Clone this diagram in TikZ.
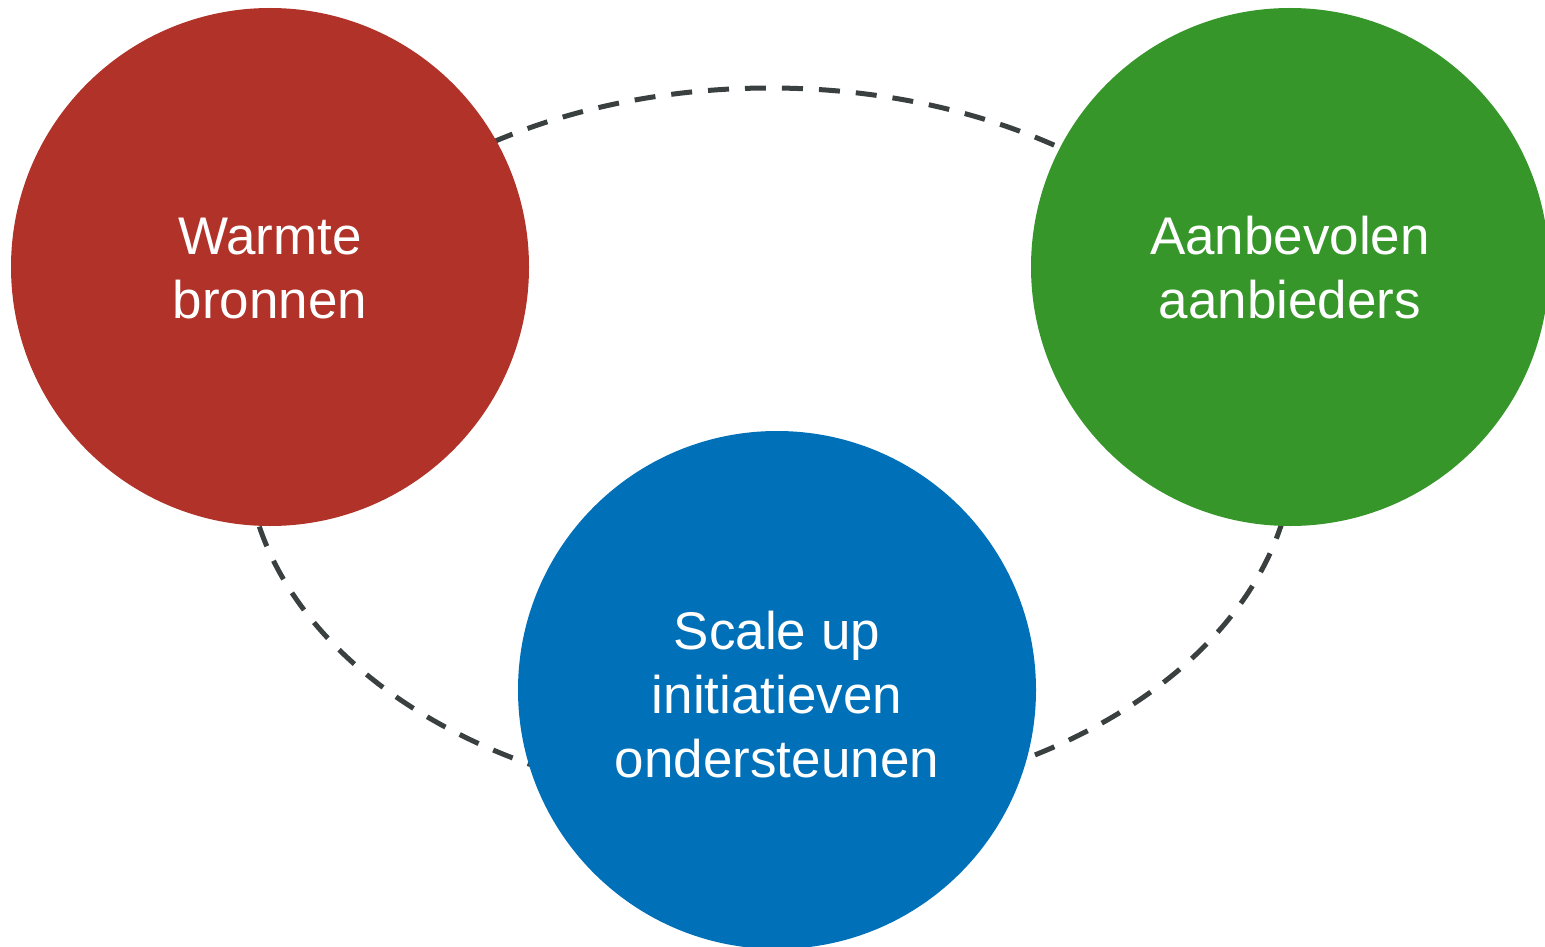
\documentclass[tikz,border=0pt]{standalone}
\usepackage{fontspec}
\setmainfont{Liberation Sans}
\definecolor{cred}{HTML}{B03228}
\definecolor{cgreen}{HTML}{36962A}
\definecolor{cblue}{HTML}{0070B8}
\definecolor{cdash}{HTML}{3A4040}
\begin{document}
\begin{tikzpicture}[x=1pt,y=-1pt,
  bubble/.style={circle, inner sep=0pt, minimum size=518pt},
  txt/.style={text=white, align=center, inner sep=0pt, font=\fontsize{53}{64}\selectfont},
  ring/.style={draw=cdash, line width=5pt, dash pattern=on 21pt off 16pt}]
\useasboundingbox (0,0) rectangle (1545,947);
\clip (0,0) rectangle (1545,947);
\draw[ring] (770,446) ellipse [x radius=524pt, y radius=358pt];
\node[bubble, fill=cred] (warmte) at (270,267) {};
\node[bubble, fill=cgreen] (aanb) at (1290,267) {};
\node[bubble, fill=cblue] (scale) at (777,690) {};
\node[txt] (warmtetxt) at ([yshift=-2pt]warmte.center) {Warmte\\bronnen};
\node[txt] (aanbtxt) at ([yshift=-1pt]aanb.center) {Aanbevolen\\aanbieders};
\node[txt] (scaletxt) at ([yshift=-5pt]scale.center) {Scale up\\initiatieven\\ondersteunen};
\end{tikzpicture}
\end{document}
